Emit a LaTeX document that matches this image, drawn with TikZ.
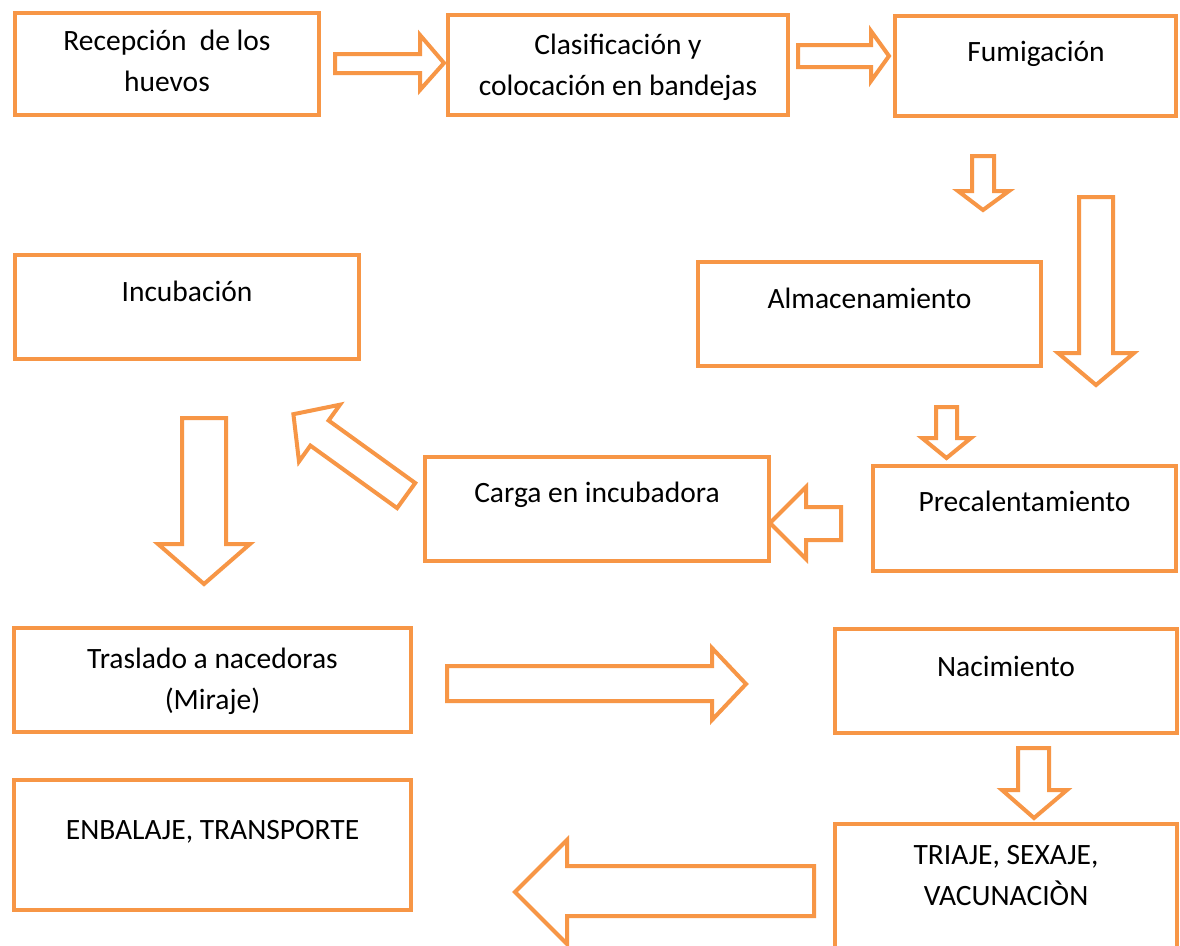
\documentclass[tikz,border=0pt]{standalone}
\usepackage{fontspec}
\setmainfont{Carlito}
\definecolor{acc}{HTML}{F79646}
\tikzset{
  box/.style={draw=acc, line width=4.2pt, fill=white, rectangle, inner sep=0pt},
  lbl/.style={font=\fontsize{29.5}{41}\selectfont, inner sep=0pt, anchor=base, text=black},
  blockarrow/.style={draw=acc, line width=4pt, fill=white, line join=miter},
}
\newcommand\twoline[2]{\begin{tabular}[t]{@{}c@{}}#1\\#2\end{tabular}}
\begin{document}
\begin{tikzpicture}[x=1pt,y=-1pt]
\useasboundingbox (0,0) rectangle (1180,945);
\clip (0,0) rectangle (1180,945);
\fill[white] (0,0) rectangle (1180,945);

% boxes
\node[box, minimum width=304pt, minimum height=102pt] (recep) at (167,64) {};
\node[box, minimum width=340pt, minimum height=100pt] (clasif) at (618,65) {};
\node[box, minimum width=281pt, minimum height=100pt] (fumig) at (1035.5,66) {};
\node[box, minimum width=343pt, minimum height=104pt] (almac) at (869.5,314) {};
\node[box, minimum width=344pt, minimum height=104pt] (incub) at (187,307) {};
\node[box, minimum width=344pt, minimum height=104pt] (carga) at (597,509) {};
\node[box, minimum width=303pt, minimum height=105pt] (precal) at (1024.5,518.5) {};
\node[box, minimum width=397pt, minimum height=104pt] (trasl) at (212.5,680) {};
\node[box, minimum width=342pt, minimum height=104pt] (nacim) at (1006,681) {};
\node[box, minimum width=397pt, minimum height=130pt] (enbal) at (212.5,845) {};
\node[box, minimum width=342pt, minimum height=138pt] (triaje) at (1006,893) {};

% texts
\node[lbl] (trecep) at (167,50) {\twoline{Recepción\ \ de los}{huevos}};
\node[lbl] (tclasif) at (618,54) {\twoline{Clasificación y}{colocación en bandejas}};
\node[lbl] (tfumig) at (1036,61) {Fumigación};
\node[lbl] (talmac) at (869.5,308) {Almacenamiento};
\node[lbl] (tincub) at (187,301) {Incubación};
\node[lbl] (tcarga) at (597,502) {Carga en incubadora};
\node[lbl] (tprecal) at (1024.5,511) {Precalentamiento};
\node[lbl] (ttrasl) at (212.5,668) {\twoline{Traslado a nacedoras}{(Miraje)}};
\node[lbl] (tnacim) at (1006,676) {Nacimiento};
\node[lbl] (tenbal) at (212.5,839) {ENBALAJE, TRANSPORTE};
\node[lbl] (ttriaje) at (1006,864) {\twoline{TRIAJE, SEXAJE,}{VACUNACIÒN}};

% block arrows
\draw[blockarrow] (335,54) -- (420,54) -- (420,35) -- (444,63) -- (420,90) -- (420,73) -- (335,73) -- cycle;
\draw[blockarrow] (798,45) -- (871,45) -- (871,31) -- (889,56) -- (871,81) -- (871,67) -- (798,67) -- cycle;
\draw[blockarrow] (972,156) -- (994,156) -- (994,191) -- (1009,191) -- (983,210) -- (958,191) -- (972,191) -- cycle;
\draw[blockarrow] (1079,197) -- (1113,197) -- (1113,353) -- (1134,353) -- (1096,385) -- (1058,353) -- (1079,353) -- cycle;
\draw[blockarrow] (936,407) -- (957,407) -- (957,438) -- (971,438) -- (946.5,458) -- (922,438) -- (936,438) -- cycle;
\draw[blockarrow] (841,507) -- (806,507) -- (806,487) -- (770,523) -- (806,559) -- (806,540) -- (841,540) -- cycle;
\draw[blockarrow] (415.2,483.0) -- (328.6,420.5) -- (340.0,404.7) -- (293.4,414.2) -- (299.0,461.5) -- (310.4,445.6) -- (397.1,508.1) -- cycle;
\draw[blockarrow] (182,418) -- (226,418) -- (226,544) -- (250,544) -- (204,584) -- (158,544) -- (182,544) -- cycle;
\draw[blockarrow] (447,666) -- (712,666) -- (712,648) -- (746,684) -- (712,720) -- (712,701) -- (447,701) -- cycle;
\draw[blockarrow] (1018,748) -- (1049,748) -- (1049,790) -- (1067,790) -- (1034,818) -- (1002,790) -- (1018,790) -- cycle;
\draw[blockarrow] (814,866) -- (567,866) -- (567,840) -- (515,892) -- (567,944) -- (567,916) -- (814,916) -- cycle;
\end{tikzpicture}
\end{document}
